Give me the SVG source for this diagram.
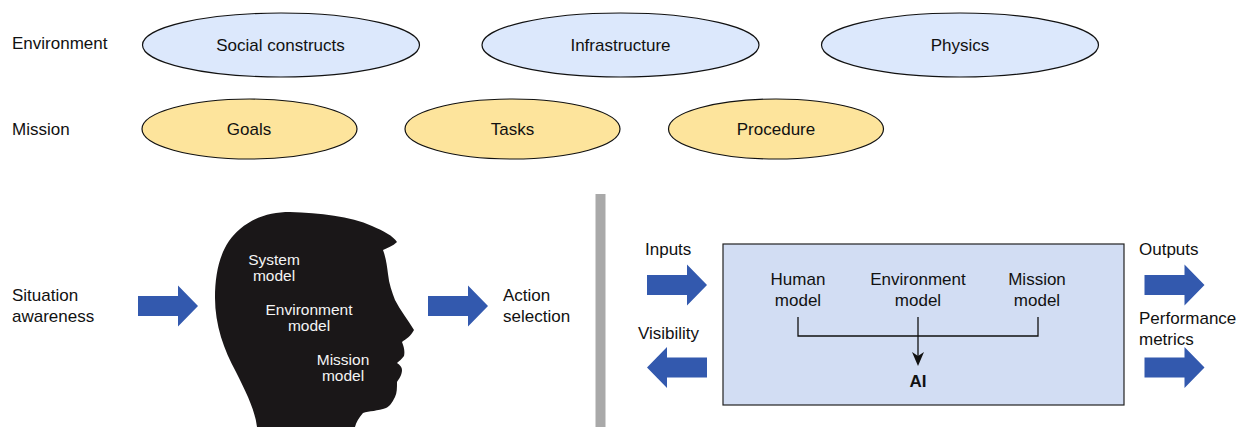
<svg xmlns="http://www.w3.org/2000/svg" width="1245" height="427" viewBox="0 0 1245 427">
<style>
text{font-family:"Liberation Sans",Arial,sans-serif;font-size:17px;fill:#111}
.m{text-anchor:middle}
.w{fill:#f4f4f4;font-size:15.500px}
.b{fill:#dce8fc;stroke:#111;stroke-width:1.2}
.y{fill:#fde49c;stroke:#111;stroke-width:1.2}
.a{fill:#3359ae}
</style>
<defs><path id="r" class="a" d="M0-10H40V-20.500L60 0 40 20.500V10H0Z"/></defs>
<rect width="1245" height="427" fill="#fff"/>
<text x="12" y="49">Environment</text><text x="12" y="135">Mission</text>
<g id="n1"><ellipse class="b" cx="281" cy="45" rx="138.500" ry="32"/><text class="m" x="280.500" y="51">Social constructs</text></g>
<g id="n2"><ellipse class="b" cx="620.500" cy="45" rx="138.500" ry="32"/><text class="m" x="620.500" y="51">Infrastructure</text></g>
<g id="n3"><ellipse class="b" cx="960" cy="45" rx="138.500" ry="32"/><text class="m" x="960" y="51">Physics</text></g>
<g id="n4"><ellipse class="y" cx="249.500" cy="129" rx="107.500" ry="30"/><text class="m" x="249" y="135">Goals</text></g>
<g id="n5"><ellipse class="y" cx="512.500" cy="129" rx="107.500" ry="30"/><text class="m" x="512.500" y="135">Tasks</text></g>
<g id="n6"><ellipse class="y" cx="776" cy="129" rx="107.500" ry="30"/><text class="m" x="776" y="135">Procedure</text></g>
<text x="12" y="301">Situation</text><text x="12" y="322">awareness</text>
<use href="#r" x="138" y="306"/>
<g id="head"><path fill="#1a1718" d="M257 427C255 410 246 392 236 372C224 350 215 325 215 298C215 268 222 244 240 229C256 216 272 212 290 212C320 213 350 216 372 226C384 231 393 236 397 242C393 246 387 248 383 250C386 258 387 266 388 274C389 284 392 292 395 300C400 310 408 320 414 330C411 336 406 339 402 342C404 347 405 351 404 356C402 359 399 361 397 363C400 365 402 367 402 370C402 375 399 379 397 382C397 388 397 393 395 397C392 403 390 406 386 408C378 411 369 411 363 413C359 418 356 422 355 427Z"/>
<text class="w m" x="274" y="265">System</text><text class="w m" x="274" y="281">model</text>
<text class="w m" x="309" y="315">Environment</text><text class="w m" x="309" y="331">model</text>
<text class="w m" x="343" y="365">Mission</text><text class="w m" x="343" y="381">model</text></g>
<use href="#r" x="428" y="306"/>
<text x="503" y="301">Action</text><text x="503" y="322">selection</text>
<rect x="595.500" y="194" width="10" height="233" fill="#a9a9a9"/>
<text x="645" y="255">Inputs</text><text x="638" y="339">Visibility</text>
<use href="#r" x="647" y="285"/>
<use href="#r" transform="translate(707 367.500) scale(-1 1)"/>
<g id="box"><rect x="723" y="244" width="401" height="161" fill="#d2ddf3" stroke="#222" stroke-width="1.200"/>
<text class="m" x="798" y="285">Human</text><text class="m" x="798" y="306">model</text>
<text class="m" x="918" y="285">Environment</text><text class="m" x="918" y="306">model</text>
<text class="m" x="1037" y="285">Mission</text><text class="m" x="1037" y="306">model</text>
<text class="m" x="918" y="387" font-weight="700">AI</text></g>
<g id="connectors" fill="none" stroke="#111" stroke-width="1.300"><path d="M798 317V336H1038V317"/><path d="M918 317V358"/><path fill="#111" stroke="none" d="M912 352L918 366 924 352 918 356Z"/></g>
<text x="1139" y="255">Outputs</text><text x="1139" y="324">Performance</text><text x="1139" y="345">metrics</text>
<use href="#r" x="1144.500" y="285"/><use href="#r" x="1144.500" y="367.500"/>
</svg>
